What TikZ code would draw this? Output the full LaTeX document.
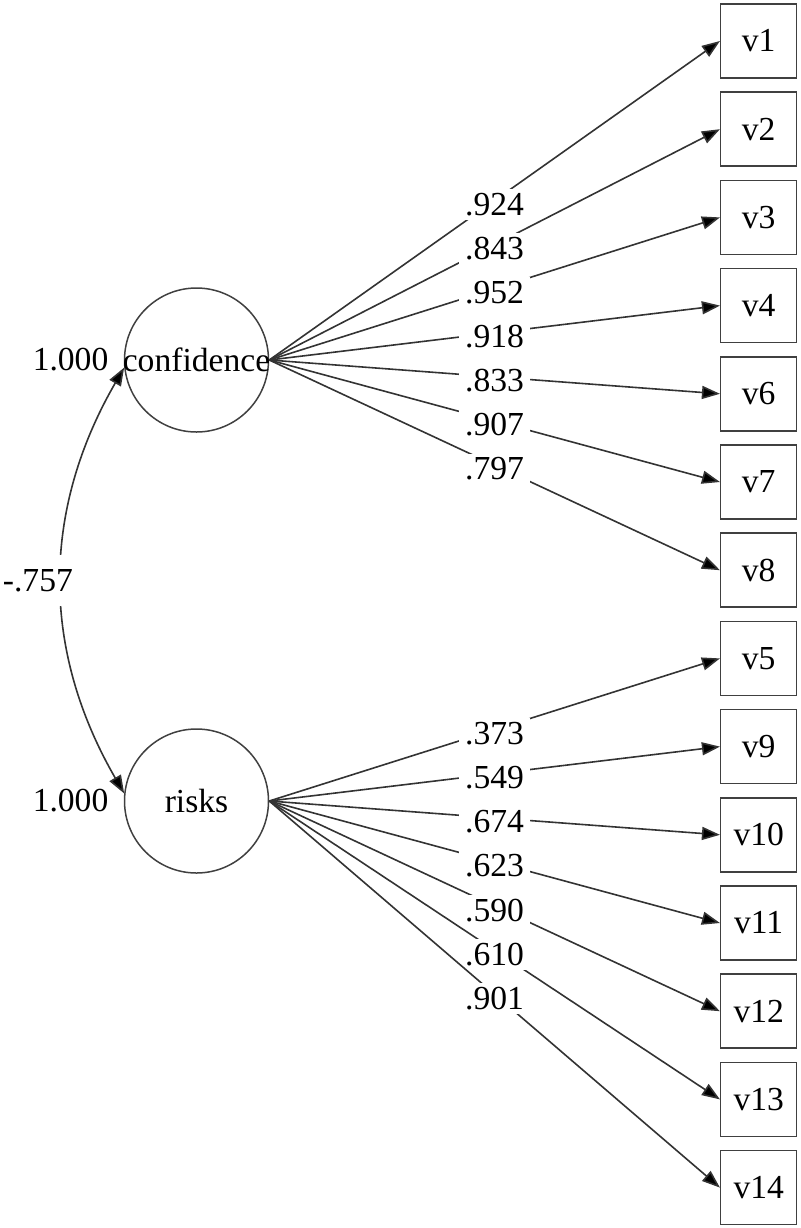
\documentclass[tikz,border=0pt]{standalone}
\usepackage{fontspec}
\setmainfont{Liberation Serif}
\usetikzlibrary{shapes,arrows.meta,calc}
\tikzstyle{latent} = [circle, draw=black!75, line width=0.75pt, minimum size=72pt, inner sep=-1.5pt]
\tikzstyle{observed} = [rectangle, draw=black!75, line width=0.75pt,
    minimum width=38pt, minimum height=37pt, inner sep=0pt]
\tikzstyle{line} = [draw=black!80, line width=0.8pt, ->]
\tikzstyle{weight} = [fill=white, inner xsep=3pt, inner ysep=2pt, yshift=-2pt]
\tikzstyle{variance} = [anchor=east, inner sep=0pt]

\begin{document}
\begin{tikzpicture}[node distance=44.1pt, >={Triangle[length=9pt,width=6.5pt,fill=black]},
    font=\fontsize{16.8}{19}\selectfont]
    \useasboundingbox (0,0) rectangle (400pt,-614pt);
    % Place nodes
    \node [latent] (conf) at (98.25pt,-180pt) {confidence};
    \node [latent, below of=conf, node distance=220.5pt] (risks) {risks};
    \node [observed] (v1) at (379.35pt,-20.5pt) {v1};
    \node [observed, below of=v1] (v2) {v2};
    \node [observed, below of=v2] (v3) {v3};
    \node [observed, below of=v3] (v4) {v4};
    \node [observed, below of=v4] (v6) {v6};
    \node [observed, below of=v6] (v7) {v7};
    \node [observed, below of=v7] (v8) {v8};
    \node [observed, below of=v8] (v5) {v5};
    \node [observed, below of=v5] (v9) {v9};
    \node [observed, below of=v9] (v10) {v10};
    \node [observed, below of=v10] (v11) {v11};
    \node [observed, below of=v11] (v12) {v12};
    \node [observed, below of=v12] (v13) {v13};
    \node [observed, below of=v13] (v14) {v14};
    % Draw edges
    \path [line] (conf.east) -- node [weight] {.924} (v1.west);
    \path [line] (conf.east) -- node [weight] {.843} (v2.west);
    \path [line] (conf.east) -- node [weight] {.952} (v3.west);
    \path [line] (conf.east) -- node [weight] {.918} (v4.west);
    \path [line] (conf.east) -- node [weight] {.833} (v6.west);
    \path [line] (conf.east) -- node [weight] {.907} (v7.west);
    \path [line] (conf.east) -- node [weight] {.797} (v8.west);
    \path [line] (risks.east) -- node [weight] {.373} (v5.west);
    \path [line] (risks.east) -- node [weight] {.549} (v9.west);
    \path [line] (risks.east) -- node [weight] {.674} (v10.west);
    \path [line] (risks.east) -- node [weight] {.623} (v11.west);
    \path [line] (risks.east) -- node [weight] {.590} (v12.west);
    \path [line] (risks.east) -- node [weight] {.610} (v13.west);
    \path [line] (risks.east) -- node [weight] {.901} (v14.west);
    % Covariance and variances
    \path [line, <->] (conf.186) to [out=240, in=120]
        node [weight, xshift=-12pt, yshift=2pt, inner ysep=7pt] (cov) {-.757} (risks.174);
    \node [variance] (confvar) at ([xshift=-7.5pt]conf.west) {1.000};
    \node [variance] (risksvar) at ([xshift=-7.5pt]risks.west) {1.000};
\end{tikzpicture}
\end{document}
